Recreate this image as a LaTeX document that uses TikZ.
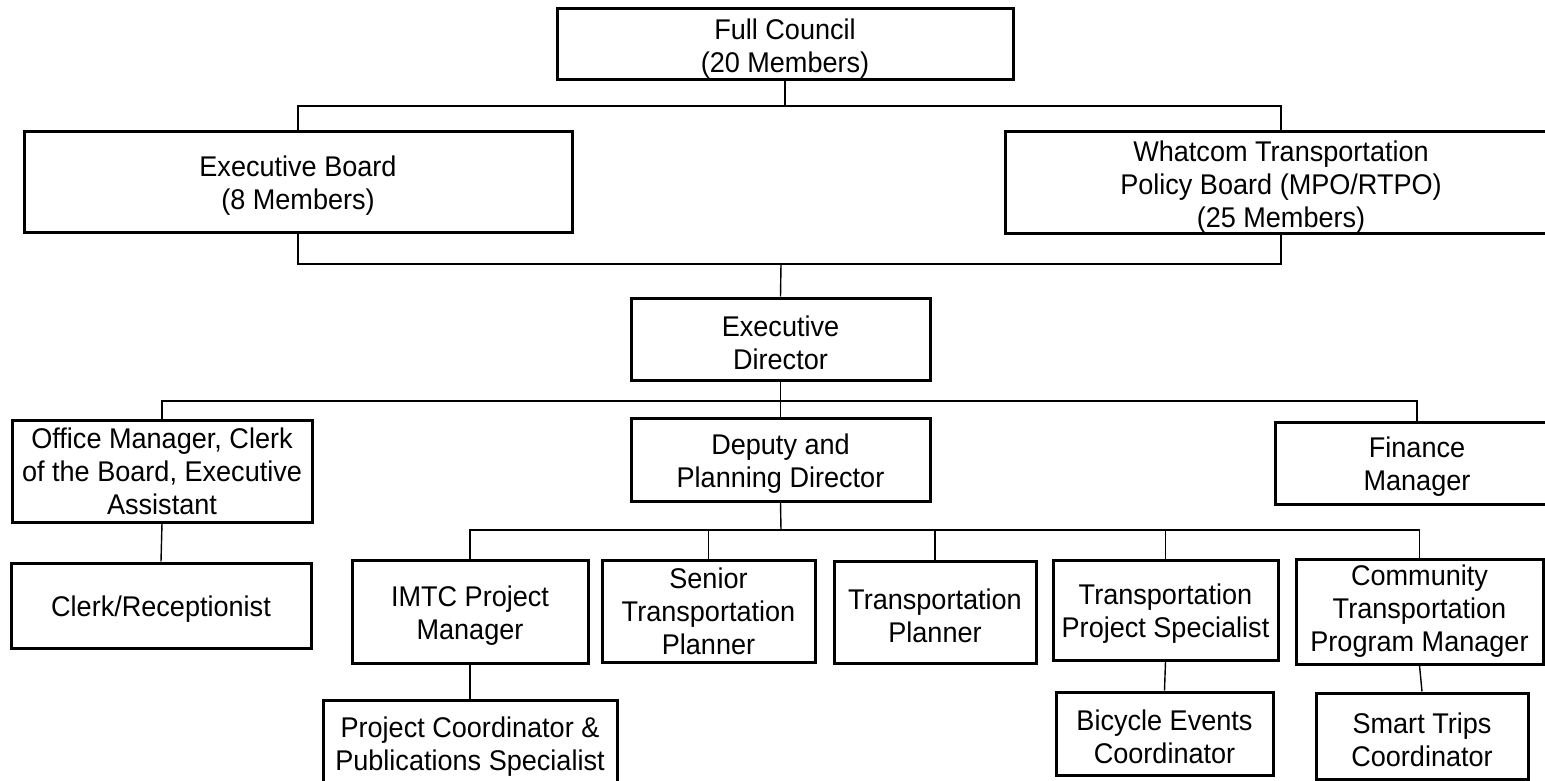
\documentclass[tikz,border=0pt]{standalone}
\usepackage{fontspec}
\setmainfont[FakeStretch=0.95]{Liberation Sans}
\tikzset{
  ob/.style={draw=black, line width=3pt, fill=white, align=center, inner sep=1pt,
    font=\fontsize{28.5}{33}\selectfont},
  conn/.style={draw=black, line width=1.4pt}
}
\newcommand\orgbox[7][28pt]{%
  \node[ob, minimum width={(#5-#3)*1pt}, minimum height={(#6-#4)*1pt}]
    (#2) at ({(#3+#5)/2},{(#4+#6)/2}) {\rule{0pt}{#1}#7};}
\begin{document}
\begin{tikzpicture}[x=1pt,y=-1pt]
\clip (0,0) rectangle (1545,781);
\fill[white] (0,0) rectangle (1545,781);

\orgbox{fc}{557}{9}{1013}{80}{Full Council\\(20 Members)}
\orgbox{eb}{24}{132}{572}{232}{Executive Board\\(8 Members)}
\orgbox[29pt]{wt}{1005}{132}{1557}{233}{Whatcom Transportation\\Policy Board (MPO/RTPO)\\(25 Members)}
\orgbox{ed}{631}{298}{930}{380}{Executive\\Director}
\orgbox[0pt]{om}{12}{420}{312}{522}{Office Manager, Clerk\\of the Board, Executive\\Assistant}
\orgbox{dp}{631}{418}{930}{501}{Deputy and\\Planning Director}
\orgbox{fm}{1275}{422}{1559}{504}{Finance\\Manager}
\orgbox{cr}{11}{563}{311}{648}{Clerk/Receptionist}
\orgbox{imtc}{352}{560}{588}{663}{IMTC Project\\Manager}
\orgbox[0pt]{st}{602}{560}{815}{662}{Senior\\Transportation\\Planner}
\orgbox{tp}{834}{561}{1036}{663}{Transportation\\Planner}
\orgbox{tps}{1053}{560}{1278}{660}{Transportation\\Project Specialist}
\orgbox[0pt]{cm}{1296}{559}{1543}{664}{Community\\Transportation\\Program Manager}
\orgbox{pc}{323}{700}{617}{786}{Project Coordinator \&\\Publications Specialist}
\orgbox{bc}{1056}{692}{1273}{775}{Bicycle Events\\Coordinator}
\orgbox{sm}{1316}{693}{1528}{779}{Smart Trips\\Coordinator}

\coordinate (b1) at (fc.south |- 0,106);
\coordinate (b2) at (781,264);
\coordinate (b3) at (781,401);
\coordinate (b4) at (781,530);

\draw[conn] (fc.south) -- (b1);
\draw[conn] (eb.north) |- (b1) -| (wt.north);
\draw[conn] (eb.south) |- (b2) -| (wt.south);
\draw[conn] (b2) -- (ed.north);
\draw[conn] (ed.south) -- (dp.north);
\draw[conn] (om.north) |- (b3) -| (fm.north);
\draw[conn] (dp.south) -- (b4);
\draw[conn] (imtc.north) |- (b4) -| (cm.north);
\draw[conn] (st.north) -- (st.north |- b4);
\draw[conn] (tp.north) -- (tp.north |- b4);
\draw[conn] (tps.north) -- (tps.north |- b4);
\draw[conn] (om.south) -- (cr.north);
\draw[conn] (imtc.south) -- (pc.north);
\draw[conn] (tps.south) -- (bc.north);
\draw[conn] (cm.south) -- (sm.north);
\end{tikzpicture}
\end{document}
